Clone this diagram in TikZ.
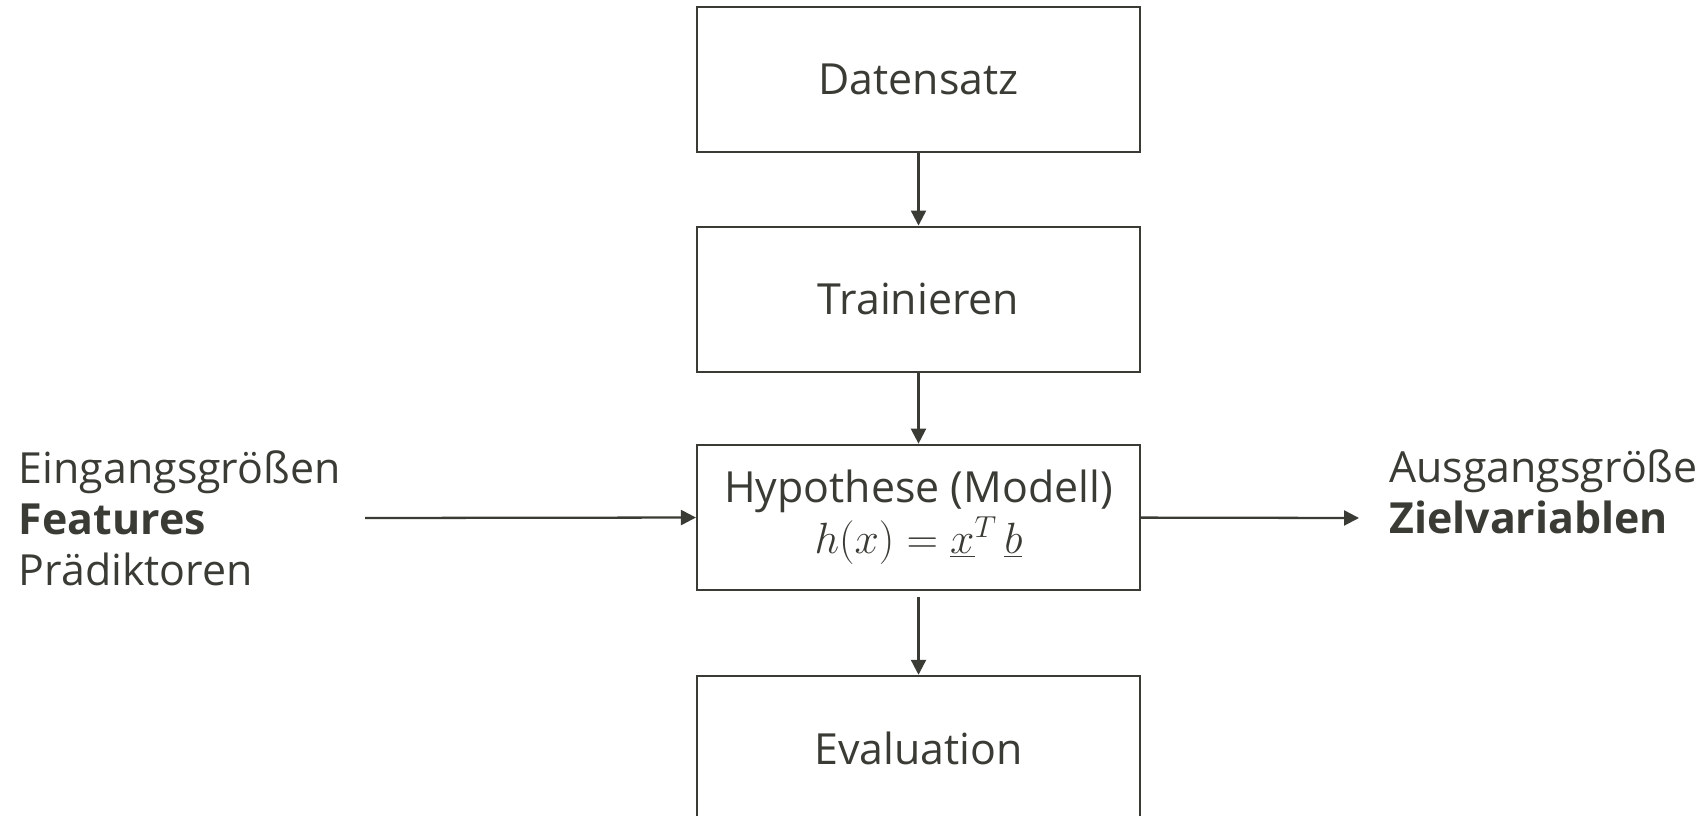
\documentclass[tikz,border=0pt]{standalone}
\usepackage{fontspec}
\setmainfont{Open Sans}
\usetikzlibrary{positioning,arrows.meta}
\definecolor{ink}{RGB}{59,59,54}
\tikzset{
  box/.style={draw=ink, line width=1.2pt, minimum width=8.86cm, minimum height=2.9cm,
    align=center, text=ink, font=\fontsize{24.4}{29}\selectfont},
  lbl/.style={inner sep=0pt, anchor=west, align=left, text=ink, font=\fontsize{24.4}{29}\selectfont},
  arr/.style={draw=ink, line width=1.3pt, -{Triangle[length=0.3cm,width=0.3cm]}}
}
\begin{document}
\begin{tikzpicture}
  \useasboundingbox (0,0) rectangle (34.1,-16.32);
  \clip (0,0) rectangle (34.1,-16.32);
  % Process chain
  \node[box] (daten) at (18.37,-1.59) {Datensatz};
  \node[box, below=1.45cm of daten] (train) {Trainieren};
  \node[box, below=1.42cm of train] (hypo) {Hypothese (Modell)\\$h(x)=\underline{x}^{T}\,\underline{b}$};
  \node[box, below=1.68cm of hypo] (eval) {Evaluation};
  % Inputs and outputs
  \node[lbl] (inp) at (0.37,-10.36) {Eingangsgrößen\\\textbf{Features}\\Prädiktoren};
  \node[lbl] (outp) at (27.78,-9.83) {Ausgangsgröße\\\textbf{Zielvariablen}};
  \coordinate (inpend) at (7.3,-10.36);
  \coordinate (outend) at (27.18,-10.36);
  % Arrows
  \draw[arr] (daten) -- (train);
  \draw[arr] (train) -- (hypo);
  \draw[arr, shorten <=0.12cm] (hypo) -- (eval);
  \draw[arr] (inpend) -- (hypo);
  \draw[arr] (hypo) -- (outend);
\end{tikzpicture}
\end{document}
